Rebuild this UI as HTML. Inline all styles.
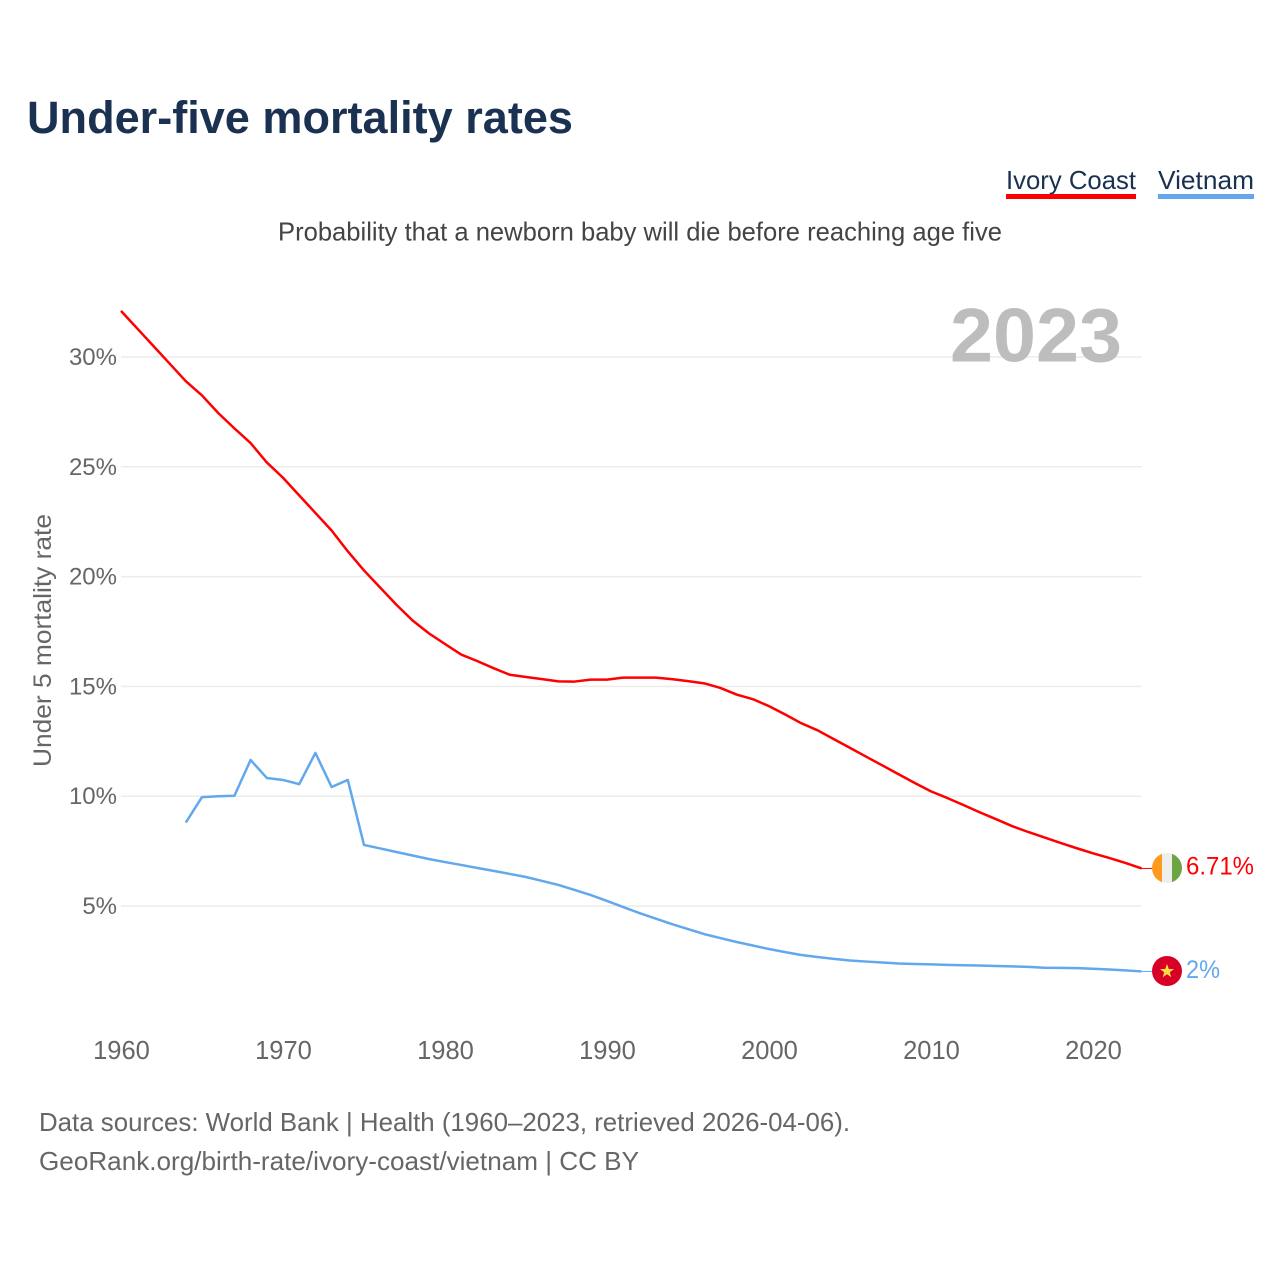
<!DOCTYPE html>
<html lang="en">
<head>
<meta charset="utf-8">
<title>Under-five mortality rates</title>
<style>
html,body{margin:0;padding:0;background:#fff;width:1280px;height:1280px;overflow:hidden}
svg{display:block}
text{font-family:"Liberation Sans",sans-serif}
.tick{font-size:25px;fill:#666}
</style>
</head>
<body>
<svg id="chart" width="1280" height="1280" viewBox="0 0 1280 1280" xmlns="http://www.w3.org/2000/svg">
  <defs>
    <clipPath id="clip-ci"><circle cx="1167" cy="868" r="15"/></clipPath>
  </defs>
  <rect x="0" y="0" width="1280" height="1280" fill="#fff"/>
  <text x="27" y="133" font-size="45" font-weight="700" fill="#1a3152" textLength="546" lengthAdjust="spacingAndGlyphs">Under-five mortality rates</text>
  <g>
    <text x="1006" y="189" font-size="26" fill="#1a3152" textLength="130" lengthAdjust="spacingAndGlyphs">Ivory Coast</text>
    <rect x="1006" y="194" width="130" height="5" fill="#ff0000"/>
  </g>
  <g>
    <text x="1158" y="189" font-size="26" fill="#1a3152" textLength="96" lengthAdjust="spacingAndGlyphs">Vietnam</text>
    <rect x="1158" y="194" width="96" height="5" fill="#63a8ec"/>
  </g>
  <text x="278" y="240.5" font-size="26" fill="#444" textLength="724" lengthAdjust="spacingAndGlyphs">Probability that a newborn baby will die before reaching age five</text>
  <g id="grid"></g>
  <text x="950" y="361.5" font-size="76" font-weight="700" fill="#bdbdbd" textLength="172" lengthAdjust="spacingAndGlyphs">2023</text>
  <g id="yticks"></g>
  <g id="xticks"></g>
  <text transform="translate(51,767) rotate(-90)" x="0" y="0" font-size="25" fill="#666" textLength="253" lengthAdjust="spacingAndGlyphs">Under 5 mortality rate</text>
  <g id="series"></g>
  <g clip-path="url(#clip-ci)">
    <rect x="1152" y="853" width="10" height="30" fill="#ff9a1f"/>
    <rect x="1162" y="853" width="10" height="30" fill="#eeeeee"/>
    <rect x="1172" y="853" width="10" height="30" fill="#6da544"/>
  </g>
  <g>
    <circle cx="1167" cy="971" r="15" fill="#d80027"/>
    <polygon points="1167,964 1168.8,969 1174,969 1169.8,972.2 1171.3,977.3 1167,974.2 1162.7,977.3 1164.2,972.2 1160,969 1165.2,969" fill="#ffda44"/>
  </g>
  <text x="1186" y="874.5" font-size="25" fill="#ff0000" textLength="68" lengthAdjust="spacingAndGlyphs">6.71%</text>
  <text x="1186" y="978" font-size="25" fill="#63a8ec" textLength="34" lengthAdjust="spacingAndGlyphs">2%</text>
  <text x="39" y="1131" font-size="26" fill="#666" textLength="811" lengthAdjust="spacingAndGlyphs">Data sources: World Bank | Health (1960–2023, retrieved 2026-04-06).</text>
  <text x="39" y="1170" font-size="26" fill="#666" textLength="600" lengthAdjust="spacingAndGlyphs">GeoRank.org/birth-rate/ivory-coast/vietnam | CC BY</text>
</svg>
<script>
const years = [1960,1961,1962,1963,1964,1965,1966,1967,1968,1969,1970,1971,1972,1973,1974,1975,1976,1977,1978,1979,1980,1981,1982,1983,1984,1985,1986,1987,1988,1989,1990,1991,1992,1993,1994,1995,1996,1997,1998,1999,2000,2001,2002,2003,2004,2005,2006,2007,2008,2009,2010,2011,2012,2013,2014,2015,2016,2017,2018,2019,2020,2021,2022,2023];
const ivoryCoast = [32.1,31.3,30.5,29.7,28.9,28.25,27.45,26.75,26.08,25.2,24.5,23.7,22.9,22.1,21.15,20.28,19.5,18.72,18.0,17.42,16.93,16.45,16.15,15.83,15.53,15.43,15.33,15.23,15.22,15.31,15.31,15.4,15.4,15.4,15.33,15.24,15.14,14.93,14.63,14.42,14.1,13.72,13.32,13.0,12.6,12.2,11.8,11.4,11.0,10.6,10.22,9.92,9.6,9.27,8.96,8.64,8.37,8.12,7.87,7.63,7.4,7.19,6.96,6.71];
const vietnam = [null,null,null,null,8.8,9.96,10.0,10.02,11.65,10.83,10.74,10.55,11.97,10.42,10.74,7.78,7.62,7.46,7.3,7.14,7.0,6.87,6.73,6.6,6.46,6.32,6.14,5.96,5.73,5.5,5.23,4.95,4.68,4.43,4.18,3.95,3.72,3.54,3.36,3.2,3.04,2.9,2.77,2.68,2.59,2.52,2.47,2.43,2.38,2.36,2.34,2.32,2.3,2.29,2.27,2.25,2.23,2.19,2.18,2.17,2.14,2.11,2.07,2.02];
const yTickValues = [5,10,15,20,25,30];
const xTickValues = [1960,1970,1980,1990,2000,2010,2020];

const SVG_NS = 'http://www.w3.org/2000/svg';
function xScale(year){ return 121 + (year - 1960) * 16.2; }
function yScale(pct){ return 1015.8 - pct * 21.96; }

const grid = document.getElementById('grid');
const yticks = document.getElementById('yticks');
const xticks = document.getElementById('xticks');
const seriesGroup = document.getElementById('series');

yTickValues.forEach(function(v){
  const line = document.createElementNS(SVG_NS, 'line');
  
  
  line.setAttribute('x1', xScale(1960));
  line.setAttribute('x2', xScale(2023));
  line.setAttribute('y1', yScale(v));
  line.setAttribute('y2', yScale(v));
  line.setAttribute('stroke', '#ececec');
  line.setAttribute('stroke-width', '1.5');
  grid.appendChild(line);

  const label = document.createElementNS(SVG_NS, 'text');
  
  
  label.setAttribute('class', 'tick');
  label.setAttribute('x', 117);
  label.setAttribute('y', yScale(v) + 8);
  label.setAttribute('text-anchor', 'end');
  label.style.fontSize = '24px';
  label.textContent = v + '%';
  yticks.appendChild(label);
});

xTickValues.forEach(function(v){
  const label = document.createElementNS(SVG_NS, 'text');
  
  
  label.setAttribute('class', 'tick');
  label.setAttribute('x', xScale(v) + 0.5);
  label.setAttribute('y', 1059);
  label.setAttribute('text-anchor', 'middle');
  label.style.fontSize = '25.5px';
  label.textContent = v;
  xticks.appendChild(label);
});

function pathFor(values){
  let d = '';
  values.forEach(function(v, i){
    if (v === null) return;
    d += (d ? 'L' : 'M') + xScale(years[i]).toFixed(2) + ' ' + yScale(v).toFixed(2);
  });
  return d;
}

const ivoryLine = document.createElementNS(SVG_NS, 'path');


ivoryLine.setAttribute('d', pathFor(ivoryCoast));
ivoryLine.setAttribute('fill', 'none');
ivoryLine.setAttribute('stroke', '#ff0000');
ivoryLine.setAttribute('stroke-width', '2.5');
ivoryLine.setAttribute('stroke-linejoin', 'round');
seriesGroup.appendChild(ivoryLine);

const vietnamLine = document.createElementNS(SVG_NS, 'path');


vietnamLine.setAttribute('d', pathFor(vietnam));
vietnamLine.setAttribute('fill', 'none');
vietnamLine.setAttribute('stroke', '#63a8ec');
vietnamLine.setAttribute('stroke-width', '2.5');
vietnamLine.setAttribute('stroke-linejoin', 'round');
seriesGroup.appendChild(vietnamLine);

const ivoryLead = document.createElementNS(SVG_NS, 'line');


ivoryLead.setAttribute('x1', xScale(2023));
ivoryLead.setAttribute('x2', 1152);
ivoryLead.setAttribute('y1', yScale(ivoryCoast[ivoryCoast.length - 1]));
ivoryLead.setAttribute('y2', yScale(ivoryCoast[ivoryCoast.length - 1]));
ivoryLead.setAttribute('stroke', '#ff0000');
ivoryLead.setAttribute('stroke-width', '1');
seriesGroup.appendChild(ivoryLead);

const vietnamLead = document.createElementNS(SVG_NS, 'line');


vietnamLead.setAttribute('x1', xScale(2023));
vietnamLead.setAttribute('x2', 1152);
vietnamLead.setAttribute('y1', yScale(vietnam[vietnam.length - 1]));
vietnamLead.setAttribute('y2', yScale(vietnam[vietnam.length - 1]));
vietnamLead.setAttribute('stroke', '#63a8ec');
vietnamLead.setAttribute('stroke-width', '1');
seriesGroup.appendChild(vietnamLead);
</script>
</body>
</html>
